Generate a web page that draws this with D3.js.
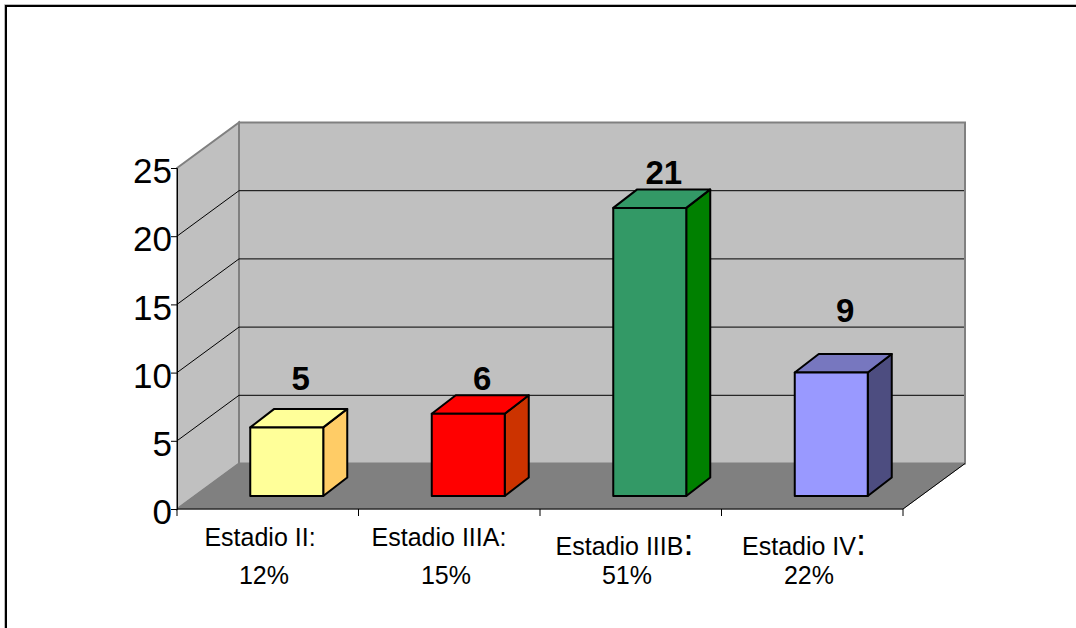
<!DOCTYPE html>
<html><head><meta charset="utf-8">
<script src="https://cdn.jsdelivr.net/npm/d3@7"></script>
<style>html,body{margin:0;padding:0;background:#fff}svg{display:block}text{font-family:"Liberation Sans",Arial,sans-serif;fill:#000}</style>
</head><body><svg id="c" width="1076" height="628"></svg>
<script>
const categories=["Estadio II:","Estadio IIIA:","Estadio IIIB:","Estadio IV:"];
const percentLabels=["12%","15%","51%","22%"];
const values=[5,6,21,9];
const frontColors=["#FFFF99","#FF0000","#339966","#9999FF"];
const topColors=["#FFFF99","#FF0000","#339966","#7777BF"];
const sideColors=["#FFCC66","#CC3300","#008000","#4D4D80"];
const yTicks=[0,5,10,15,20,25];

const svg=d3.select("#c");
const x0=177,x1=903,yBottom=509,yTop=168;
const depthX=62,depthY=-45.5;
const x=d3.scaleBand().domain(categories).range([x0,x1]).paddingInner(0).paddingOuter(0);
const y=d3.scaleLinear().domain([0,25]).range([yBottom,yTop]);
const poly=p=>p.map(q=>q.join(",")).join(" ");

// frame: open at the right and bottom
svg.append("path").attr("d","M4.5,628V4.5H1076").attr("fill","none").attr("stroke","#BBB").attr("stroke-width",1);
svg.append("path").attr("d","M6,628V6H1076").attr("fill","none").attr("stroke","#000").attr("stroke-width",2);

// walls
const wall="#C0C0C0",edge="#808080";
svg.append("polygon").attr("points",poly([[x0+depthX,yTop+depthY],[x1+depthX,yTop+depthY],[x1+depthX,yBottom+depthY],[x0+depthX,yBottom+depthY]]))
  .attr("fill",wall).attr("stroke",edge).attr("stroke-width",2);
svg.append("polygon").attr("points",poly([[x0,yTop],[x0+depthX,yTop+depthY],[x0+depthX,yBottom+depthY],[x0,yBottom]]))
  .attr("fill",wall).attr("stroke",edge).attr("stroke-width",2);
svg.append("polygon").attr("points",poly([[x0,yBottom],[x0+depthX,yBottom+depthY],[x1+depthX,yBottom+depthY],[x1,yBottom]]))
  .attr("fill",edge).attr("stroke",edge).attr("stroke-width",1);

// gridlines
yTicks.filter(t=>t>0&&t<25).forEach(t=>{
  svg.append("path").attr("fill","none").attr("stroke","#000").attr("stroke-width",1)
    .attr("d",d3.line()([[x0,y(t)],[x0+depthX,y(t)+depthY],[x1+depthX-1,y(t)+depthY]]));
});
svg.append("path").attr("fill","none").attr("stroke","#000").attr("stroke-width",1)
  .attr("d",d3.line()([[x1,yBottom],[x1+depthX,yBottom+depthY]]));

// axes
const yAxis=d3.axisLeft(y).tickValues(yTicks).tickSize(6).tickPadding(-1).tickFormat(d3.format("d"));
const gy=svg.append("g").attr("transform",`translate(${x0},0)`).call(yAxis);
gy.select(".domain").attr("stroke","#000").attr("stroke-width",1);
gy.selectAll("text").attr("font-size",35).attr("fill","#000").attr("dy","0.42em");
gy.selectAll("line").attr("stroke","#000");

const gx=svg.append("g").attr("transform",`translate(0,${yBottom})`);
gx.append("line").attr("x1",x0).attr("x2",x1).attr("stroke","#000");
[...categories.map(c=>x(c)),x1].forEach(p=>gx.append("line").attr("x1",p).attr("x2",p).attr("y1",0).attr("y2",7).attr("stroke","#000"));

// bars
const barW=73,bdx=24,bdy=-18.5,floorDX=17,floorY=496;
const barH=d3.scaleLinear().domain([0,25]).range([0,343]);
const dataLabelBaseline=[390,390,184,322];
const g=svg.append("g").attr("stroke","#000").attr("stroke-width",2).attr("stroke-linejoin","round");
categories.forEach((c,i)=>{
  const l=x(c)+floorDX+(x.bandwidth()-barW)/2+2,r=l+barW,b=floorY,t=b-barH(values[i]);
  g.append("polygon").attr("points",poly([[r,b],[r+bdx,b+bdy],[r+bdx,t+bdy],[r,t]])).attr("fill",sideColors[i]);
  g.append("polygon").attr("points",poly([[l,t],[l+bdx,t+bdy],[r+bdx,t+bdy],[r,t]])).attr("fill",topColors[i]);
  g.append("rect").attr("x",l).attr("y",t).attr("width",barW).attr("height",b-t).attr("fill",frontColors[i]);
  svg.append("text").attr("x",l+barW/2+14).attr("y",dataLabelBaseline[i]).attr("text-anchor","middle")
    .attr("font-size",33).attr("font-weight","bold").text(values[i]);
});

// category labels
const labelCx=[260,439,624.5,804];
const line1Y=[546,546,555,555];
const percentCx=[264,446,627,809];
categories.forEach((c,i)=>{
  const t=svg.append("text").attr("x",labelCx[i]).attr("y",line1Y[i]).attr("text-anchor","middle").attr("font-size",25);
  if(i<2) t.text(c);
  else {
    t.append("tspan").text(c.slice(0,-1));
    t.append("tspan").attr("font-size",36).text(":");
  }
  svg.append("text").attr("x",percentCx[i]).attr("y",584).attr("text-anchor","middle").attr("font-size",25).text(percentLabels[i]);
});
</script></body></html>
